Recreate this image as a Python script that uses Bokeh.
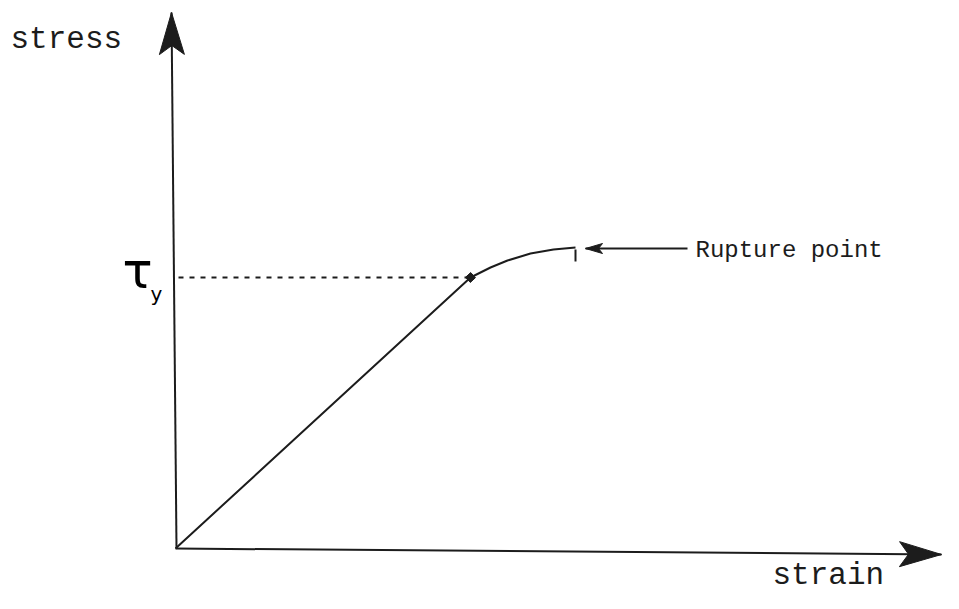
import numpy as np
from bokeh.plotting import figure
from bokeh.models import Range1d
from bokeh.core.properties import value
from bokeh.embed import file_html
from bokeh.resources import INLINE

# ---- data (units: 1 unit = 100 px, origin at the axes' corner) ----
strain = [0.0, 2.95, 3.15, 3.32, 3.55, 3.78, 4.00]
stress = [0.0, 2.71, 2.81, 2.88, 2.95, 2.99, 3.01]
yield_strain = 2.95
yield_stress = 2.71
rupture_strain = 4.00
rupture_stress = 3.01

# axis lines (start, tip)
y_axis_x = [0.01, -0.04]
y_axis_y = [0.0, 5.36]
x_axis_x = [0.0, 7.66]
x_axis_y = [0.0, -0.06]

# rupture pointer (tip, tail)
pointer_x = [4.10, 5.12]
pointer_y = [3.00, 3.00]

labels = ["stress", "strain", "Rupture point"]
label_x = [-1.65, 5.97, 5.20]
label_y = [5.09, -0.27, 2.98]
label_size = ["31px", "31px", "24px"]

INK = "#1c1c1c"

p = figure(width=943, height=593, output_backend="svg", toolbar_location=None,
           x_range=Range1d(-1.75, 7.68), y_range=Range1d(-0.45, 5.48),
           min_border=0, min_border_left=0, min_border_right=0,
           min_border_top=0, min_border_bottom=0)
p.axis.visible = False
p.grid.visible = False
p.outline_line_color = None
p.background_fill_color = "white"
p.border_fill_color = "white"


def head(tip_x, tip_y, base_x, base_y, length, half_w, notch):
    d = np.array([tip_x - base_x, tip_y - base_y], dtype=float)
    d /= np.linalg.norm(d)
    n = np.array([-d[1], d[0]])
    t = np.array([tip_x, tip_y])
    pts = [t, t - length * d + half_w * n, t - (length - notch) * d,
           t - length * d - half_w * n]
    return [q[0] for q in pts], [q[1] for q in pts]


# axes
p.line(y_axis_x, y_axis_y, line_color=INK, line_width=2)
p.line(x_axis_x, x_axis_y, line_color=INK, line_width=2)
hx, hy = head(y_axis_x[1], y_axis_y[1], y_axis_x[0], y_axis_y[0], 0.42, 0.125, 0.09)
p.patch(hx, hy, fill_color=INK, line_color=INK)
hx, hy = head(x_axis_x[1], x_axis_y[1], x_axis_x[0], x_axis_y[0], 0.42, 0.125, 0.09)
p.patch(hx, hy, fill_color=INK, line_color=INK)

# stress-strain curve
p.line(strain, stress, line_color=INK, line_width=2)

# yield dashed line and marker
p.line([0.03, yield_strain], [yield_stress, yield_stress], line_color=INK,
       line_width=1.8, line_dash="5 6")
p.scatter([yield_strain], [yield_stress], marker="square", size=7,
          fill_color=INK, line_color=INK, angle=0.75)

# rupture tick
p.line([rupture_strain, rupture_strain], [rupture_stress - 0.02, rupture_stress - 0.14],
       line_color=INK, line_width=2)

# rupture pointer
p.line(pointer_x, pointer_y, line_color=INK, line_width=2)
hx, hy = head(pointer_x[0], pointer_y[0], pointer_x[1], pointer_y[1], 0.17, 0.05, 0.04)
p.patch(hx, hy, fill_color=INK, line_color=INK)

# labels
for t, x, y, s in zip(labels, label_x, label_y, label_size):
    p.text([x], [y], text=[t], text_font=value("Liberation Mono"),
           text_font_size=s, text_color=INK, text_baseline="alphabetic",
           text_align="left")

p.text([-0.53], [2.78], text=["τ"], text_font=value("DejaVu Sans"),
       text_font_size="50px", text_color="black", text_baseline="alphabetic")
p.text([-0.25], [2.55], text=["y"], text_font=value("DejaVu Sans"),
       text_font_size="20px", text_color="black", text_baseline="alphabetic")

open("out.html", "w").write(file_html(p, INLINE))
